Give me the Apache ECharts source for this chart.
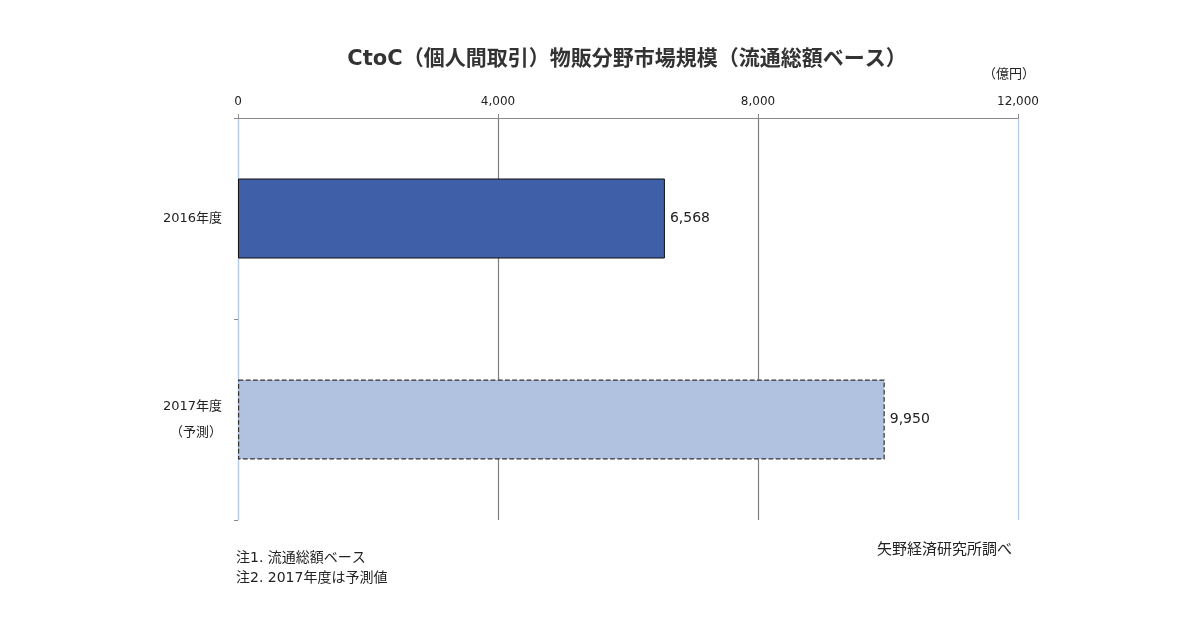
<!DOCTYPE html>
<html><head><meta charset="utf-8">
<script src="https://cdn.jsdelivr.net/npm/echarts@6/dist/echarts.min.js"></script>
<style>html,body{margin:0;padding:0;background:#fff}#c{width:1200px;height:630px}</style>
</head><body><div id="c"></div>
<script>
const categories = ['2016年度', '2017年度\n（予測）'];
const values = [6568, 9950];
const xTicks = [0, 4000, 8000, 12000];
const titleText = 'CtoC（個人間取引）物販分野市場規模（流通総額ベース）';
const unitText = '（億円）';
const notes = ['注1. 流通総額ベース', '注2. 2017年度は予測値'];
const sourceText = '矢野経済研究所調べ';

const FONT = '"DejaVu Sans", "Noto Sans CJK JP", sans-serif';
const chart = echarts.init(document.getElementById('c'));
const fmt = v => Number(v).toLocaleString('en-US');
const barStyles = [
  {color: '#3f5fa8', borderColor: '#111', borderWidth: 1, borderType: 'solid'},
  {color: '#b0c2e0', borderColor: '#333', borderWidth: 1.2, borderType: 'dashed'}
];
chart.setOption({
  backgroundColor: '#fff',
  textStyle: {fontFamily: FONT},
  graphic: [
    {type: 'text', x: 627, y: 60, style: {text: titleText, font: 'bold 21px ' + FONT, fill: '#333', align: 'center', verticalAlign: 'middle'}},
    {type: 'text', x: 1035, y: 75, style: {text: unitText, font: '13px ' + FONT, fill: '#222', align: 'right', verticalAlign: 'middle'}},
    {type: 'text', x: 236, y: 558, style: {text: notes[0], font: '14px ' + FONT, fill: '#222', verticalAlign: 'middle'}},
    {type: 'text', x: 236, y: 578, style: {text: notes[1], font: '14px ' + FONT, fill: '#222', verticalAlign: 'middle'}},
    {type: 'text', x: 877, y: 550, style: {text: sourceText, font: '15px ' + FONT, fill: '#222', verticalAlign: 'middle'}}
  ],
  grid: {left: 238, right: 182, top: 118, bottom: 110, containLabel: false},
  xAxis: {
    type: 'value', position: 'top', min: xTicks[0], max: xTicks[xTicks.length - 1], interval: 4000,
    axisLine: {show: true, lineStyle: {color: '#8a8a8a', width: 1}},
    axisTick: {show: true, length: 4, lineStyle: {color: '#8a8a8a'}},
    axisLabel: {formatter: v => fmt(v), color: '#222', fontSize: 12, margin: 10, fontFamily: FONT},
    splitLine: {show: true, lineStyle: {color: ['#b4c7e7', '#7f7f7f', '#7f7f7f', '#b4c7e7'], width: 1.2}}
  },
  yAxis: {
    type: 'category', inverse: true, data: categories,
    axisLine: {show: true, lineStyle: {color: '#b4c7e7', width: 1.2}},
    axisTick: {show: true, length: 4, lineStyle: {color: '#8a8a8a'}},
    axisLabel: {color: '#222', fontSize: 13, margin: 16, lineHeight: 26, fontFamily: FONT}
  },
  series: [{
    type: 'bar', barWidth: 80,
    data: values.map((v, i) => ({value: v, itemStyle: barStyles[i]})),
    label: {show: true, position: 'right', distance: 5, formatter: p => fmt(p.value), color: '#222', fontSize: 14, fontFamily: FONT},
    animation: false
  }],
  animation: false
});
</script></body></html>
